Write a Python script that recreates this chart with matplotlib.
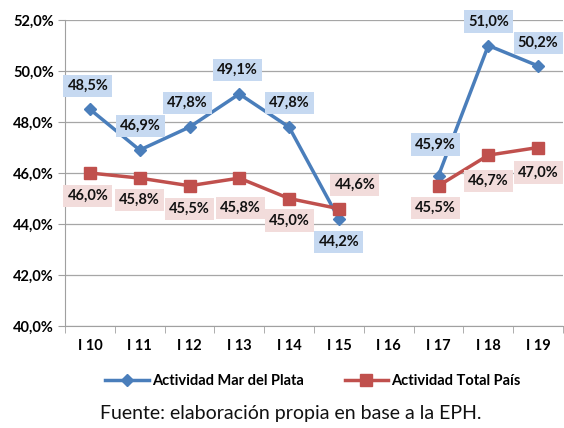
import numpy as np
import matplotlib
matplotlib.use("Agg")
import matplotlib.pyplot as plt

categories = ["I 10", "I 11", "I 12", "I 13", "I 14", "I 15", "I 16", "I 17", "I 18", "I 19"]
mdp = [48.5, 46.9, 47.8, 49.1, 47.8, 44.2, np.nan, 45.9, 51.0, 50.2]
pais = [46.0, 45.8, 45.5, 45.8, 45.0, 44.6, np.nan, 45.5, 46.7, 47.0]
series_names = ["Actividad Mar del Plata", "Actividad Total País"]
yticks = [40, 42, 44, 46, 48, 50, 52]
footer = "Fuente: elaboración propia en base a la EPH."

# label offsets in pixels (dx, dy up positive)
mdp_off = [(-2, 23), (1, 24), (-2, 24), (-2, 24), (0, 24), (0, -23), None, (-3, 31), (0, 24), (0, 23)]
pais_off = [(-2, -23), (0, -22), (0, -23), (1, -30), (0, -22), (16, 24), None, (-3, -22), (0, -26), (0, -25)]

plt.rcParams['font.family'] = ['Lato', 'DejaVu Sans']
BLUE = '#4A7EBB'
RED = '#C0504D'

fig = plt.figure(figsize=(5.64, 4.28), dpi=100)
ax = fig.add_axes([65/564, 1-326/428, (563-65)/564, (326-20)/428])
x = np.arange(len(categories))

ax.plot(x, mdp, color=BLUE, lw=2.5, marker='D', ms=6.5, label=series_names[0], zorder=3)
ax.plot(x, pais, color=RED, lw=2.5, marker='s', ms=8, label=series_names[1], zorder=3)

def fmt(v):
    return f"{v:.1f}%".replace('.', ',')

px2pt = 0.72
for vals, offs, fc in ((mdp, mdp_off, '#C6D9F1'), (pais, pais_off, '#F2DCDB')):
    for i, v in enumerate(vals):
        if np.isnan(v):
            continue
        dx, dy = offs[i]
        ax.annotate(fmt(v), (x[i], v), xytext=(dx*px2pt, dy*px2pt), textcoords='offset points',
                    ha='center', va='center', fontsize=10.5, fontweight='bold', color='#111111',
                    bbox=dict(boxstyle='square,pad=0.28', fc=fc, ec='none'), zorder=4,
                    annotation_clip=False)

ax.set_xlim(-0.5, len(categories) - 0.5)
ax.set_ylim(40, 52)
ax.set_yticks(yticks)
ax.set_yticklabels([fmt(t) for t in yticks], fontsize=10.5, fontweight='bold')
ax.set_xticks(x)
ax.set_xticklabels(categories, fontsize=10.5, fontweight='bold')
ax.set_xticks(np.arange(-0.5, len(categories)), minor=True)
ax.tick_params(axis='x', which='major', length=0, pad=9)
ax.tick_params(axis='x', which='minor', length=5, color='#A0A0A0')
ax.tick_params(axis='y', length=5, color='#A0A0A0', pad=3)
ax.grid(axis='y', color='#A6A6A6', lw=0.9)
ax.set_axisbelow(True)
for s in ['top', 'right']:
    ax.spines[s].set_visible(False)
for s in ['left', 'bottom']:
    ax.spines[s].set_color('#A0A0A0')

leg = fig.legend(loc='center', bbox_to_anchor=(0.555, 1-381/428), ncol=2, frameon=False,
                 prop={'weight': 'bold', 'size': 10.5}, handlelength=3, columnspacing=2.8,
                 handletextpad=0.2)
fig.text(0.515, 1-413/428, footer, ha='center', va='center', fontsize=14, color='#111111')

fig.savefig('out.png', dpi=100)
